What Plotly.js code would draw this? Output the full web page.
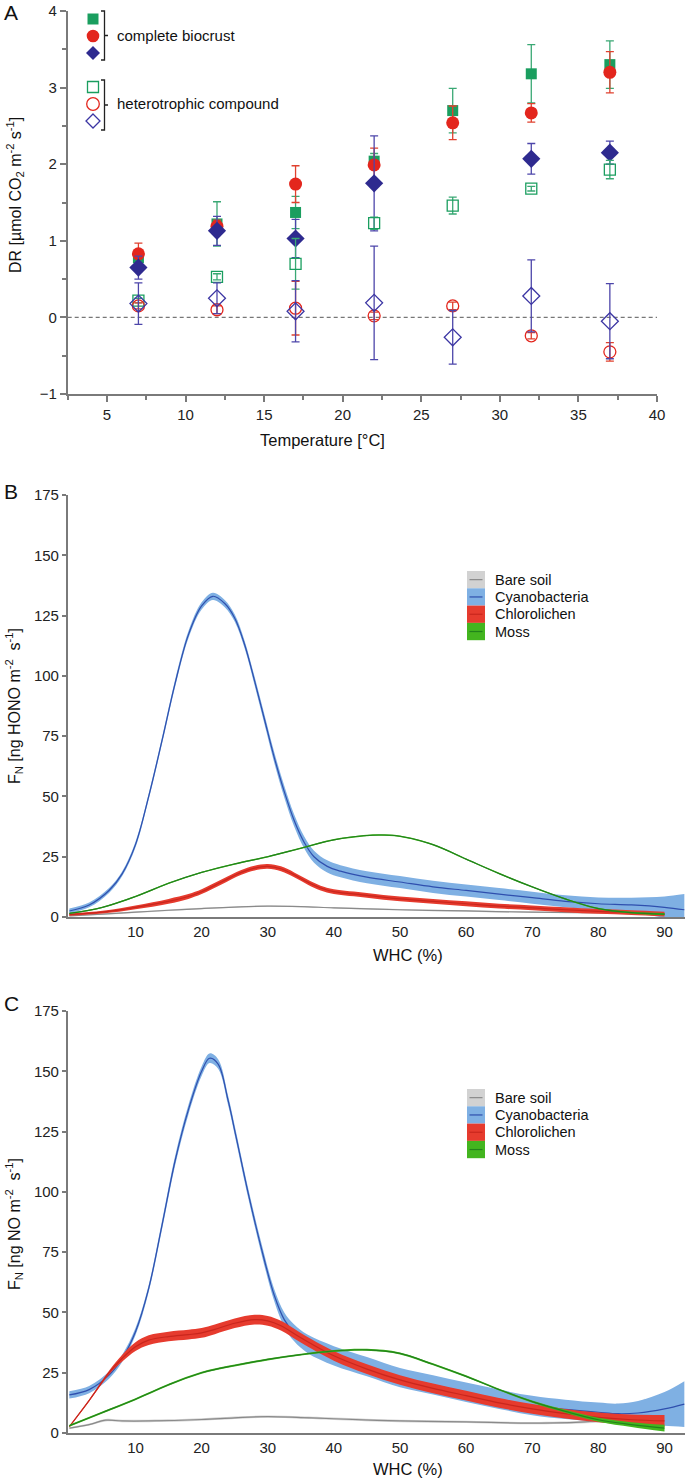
<!DOCTYPE html>
<html><head><meta charset="utf-8">
<script src="https://cdn.plot.ly/plotly-3.0.1.min.js"></script>
<style>html,body{margin:0;padding:0;background:#fff}#p{width:685px;height:1480px}</style>
</head><body><div id="p"></div>
<script>
// ---------- Panel A data ----------
const temps = [7, 12, 17, 22, 27, 32, 37];
const greenComplete = [0.78, 1.22, 1.37, 2.04, 2.70, 3.18, 3.30];
const greenCompleteErr = [0.05, 0.29, 0.21, 0.10, 0.29, 0.38, 0.31];
const redComplete = [0.83, 1.19, 1.74, 1.99, 2.54, 2.67, 3.20];
const redCompleteErr = [0.14, 0.08, 0.24, 0.22, 0.22, 0.12, 0.27];
const blueComplete = [0.65, 1.13, 1.03, 1.75, null, 2.07, 2.15];
const blueCompleteErr = [0.15, 0.19, 0.25, 0.62, 0, 0.20, 0.15];
const greenHetero = [0.22, 0.53, 0.70, 1.23, 1.46, 1.68, 1.93];
const greenHeteroErr = [0.03, 0.04, 0.33, 0.08, 0.11, 0.03, 0.12];
const redHetero = [0.15, 0.10, 0.12, 0.02, 0.15, -0.24, -0.45];
const redHeteroErr = [0.04, 0.05, 0.35, 0.05, 0.05, 0.04, 0.12];
const blueHetero = [0.18, 0.25, 0.08, 0.19, -0.26, 0.28, -0.05];
const blueHeteroErr = [0.27, 0.20, 0.40, 0.74, 0.35, 0.47, 0.49];
const legendA1 = "complete biocrust";
const legendA2 = "heterotrophic compound";

// ---------- Panel B data (HONO) ----------
const bareB_x = [0, 5, 10, 15, 20, 25, 30, 35, 40, 50, 60, 70, 80, 88];
const bareB_y = [0.5, 1.2, 2, 2.8, 3.5, 4.1, 4.5, 4.3, 3.8, 3, 2.5, 2, 1.8, 1.5];
const bareB_hw = [0.3, 0.3, 0.3, 0.3, 0.3, 0.3, 0.3, 0.3, 0.3, 0.3, 0.3, 0.3, 0.4, 0.6];
const cyanoB_x = [0, 3, 6, 8, 10, 12, 14, 16, 18, 20, 21.7, 23.5, 25, 26.5, 28, 29.5, 31, 32.5, 34, 35.5, 37, 39, 41, 45, 50, 55, 60, 65, 70, 75, 80, 85, 90, 93];
const cyanoB_y = [2.5, 5, 11, 18, 30, 50, 73, 97, 117, 129, 133, 130, 124, 113, 98, 82, 66, 52, 40, 31, 25, 21, 19, 16.5, 14.5, 12.5, 11, 9.5, 8, 6.5, 5.5, 5, 4, 3];
const cyanoB_hw = [1, 1, 1, 1, 1.2, 1.3, 1.4, 1.5, 1.5, 1.5, 1.5, 1.5, 1.5, 1.6, 1.8, 2, 2.2, 2.4, 2.5, 2.5, 2.5, 2.5, 2.5, 2.5, 2.5, 2.5, 2.5, 2.5, 2.5, 2.5, 2.6, 3, 4.5, 6.5];
const chloroB_x = [0, 5, 10, 15, 18, 20, 23, 26, 28, 30, 32, 34, 36, 38, 40, 45, 50, 55, 60, 65, 70, 75, 80, 85, 90];
const chloroB_y = [1, 2, 4, 6.5, 8.5, 10.5, 14.5, 18.5, 20.3, 21, 20, 17.5, 14.5, 12, 10.5, 9, 7.5, 6.5, 5.5, 4.5, 3.8, 3, 2.3, 1.8, 1.2];
const chloroB_hw = [0.5, 0.6, 0.8, 1, 1, 1, 1, 1, 1, 1, 1, 1, 1, 1, 1, 1, 1, 1, 1, 1, 1, 1, 1, 1, 1];
const mossB_x = [0, 5, 10, 15, 20, 25, 30, 35, 40, 45, 47, 50, 55, 60, 65, 70, 75, 80, 85, 90];
const mossB_y = [1.5, 4, 8.5, 14, 18.5, 22, 25, 28.5, 32, 33.8, 34, 33.5, 30, 24, 18, 12.5, 7.5, 3.5, 1.8, 1.2];
const mossB_hw = [0.3, 0.3, 0.3, 0.3, 0.3, 0.3, 0.3, 0.3, 0.3, 0.3, 0.3, 0.3, 0.3, 0.3, 0.3, 0.3, 0.3, 0.3, 0.4, 0.5];

// ---------- Panel C data (NO) ----------
const bareC_x = [0, 3, 5.5, 8, 12, 20, 25, 30, 35, 40, 50, 60, 70, 78, 82, 85, 87];
const bareC_y = [2, 3.5, 5.3, 5, 5, 5.6, 6.3, 6.8, 6.4, 5.9, 5, 4.6, 4.1, 4.6, 5.8, 7.8, 12.5];
const bareC_hw = [0.4, 0.4, 0.5, 0.5, 0.5, 0.5, 0.5, 0.5, 0.5, 0.5, 0.5, 0.5, 0.5, 0.6, 0.8, 1.2, 1.8];
const cyanoC_x = [0, 3, 6, 8, 10, 12, 14, 16, 18, 20, 21.2, 22.5, 24, 25.2, 27, 29, 31, 32.5, 34, 36, 40, 45, 50, 55, 60, 65, 70, 75, 80, 83, 86, 90, 93];
const cyanoC_y = [15.8, 18, 24, 31, 42, 60, 86, 113, 134, 150, 155.4, 153, 138, 123, 100, 77, 57, 47, 41.5, 37, 32, 27.5, 23, 20, 16.9, 14, 11.4, 9.8, 8.6, 8, 8.3, 10, 12];
const cyanoC_hw = [1.5, 1.5, 1.5, 1.5, 1.5, 1.5, 1.8, 2, 2, 2, 2, 2, 2, 2, 2, 2.2, 2.5, 3, 3.5, 3.8, 4, 4, 4, 4, 4, 4, 4, 4, 4, 4.2, 5, 7, 9.5];
const chloroC_x = [0, 3, 6, 8, 10, 12, 15, 18, 20, 22, 25, 28, 30, 32, 35, 40, 45, 50, 55, 60, 65, 70, 75, 80, 85, 90];
const chloroC_y = [2.6, 13.5, 25, 31, 35.8, 38.5, 40, 40.8, 41.5, 43, 45.5, 47, 46.5, 44.5, 39.5, 32, 26.5, 22, 18.5, 15.5, 12.5, 10, 8, 6.5, 5.5, 5];
const chloroC_hw = [0.3, 0.4, 0.8, 1.4, 1.8, 2, 2, 2, 2, 2, 2, 2, 2, 2, 2, 2, 2, 2, 2, 2, 2, 2, 2, 2, 2.2, 2.5];
const mossC_x = [0, 5, 10, 15, 20, 25, 30, 35, 40, 45, 50, 55, 60, 65, 70, 75, 80, 85, 90];
const mossC_y = [3, 8.5, 14, 20, 25, 28, 30.5, 32.5, 34, 34.5, 33, 28.5, 23.5, 18, 13, 9, 5.5, 3.5, 2];
const mossC_hw = [0.4, 0.4, 0.4, 0.4, 0.4, 0.4, 0.4, 0.4, 0.4, 0.4, 0.4, 0.4, 0.4, 0.4, 0.5, 0.6, 0.8, 1, 1.4];

const seriesNames = ["Bare soil", "Cyanobacteria", "Chlorolichen", "Moss"];
const whcTicks = [10, 20, 30, 40, 50, 60, 70, 80, 90];
const fnTicks = [0, 25, 50, 75, 100, 125, 150, 175];

// ---------- styles ----------
const FONT = "Liberation Sans, Arial, Helvetica, sans-serif";
const AX = "#7a7a7a";
const cGreen = "#1a9e5f", cRed = "#e3261d", cBlue = "#2e2a8f";
const bandCol = ["#d2d2d2", "#7fb0e3", "#e63b2e", "#43b51f"];
const lineCol = ["#8a8a8a", "#2f4fae", "#c9261d", "#21831b"];
const W = 685, H = 1480;
const fx = p => p / W, fy = p => 1 - p / H;

const traces = [];
function pt(y, err, sym, size, col, ecol, open) {
  traces.push({
    type: "scatter", mode: "markers", x: temps, y: y, xaxis: "x", yaxis: "y",
    marker: { symbol: sym, size: size, color: col, line: { color: col, width: open ? 1.3 : 0 } },
    error_y: { type: "data", array: err, visible: true, color: ecol, thickness: 1.3, width: 4 },
    showlegend: false, cliponaxis: false
  });
}
pt(greenComplete, greenCompleteErr, "square", 11, cGreen, "#3aa874", false);
pt(redComplete, redCompleteErr, "circle", 13, cRed, "#e0412f", false);
pt(blueComplete, blueCompleteErr, "diamond", 14, cBlue, "#4d46aa", false);
pt(greenHetero, greenHeteroErr, "square-open", 11, cGreen, "#3aa874", true);
pt(redHetero, redHeteroErr, "circle-open", 12, cRed, "#e0412f", true);
pt(blueHetero, blueHeteroErr, "diamond-open", 13, "#3b35a3", "#4d46aa", true);

function band(xs, ys, hw, i, xa, ya) {
  const lo = ys.map((v, k) => v - hw[k]);
  const hi = ys.map((v, k) => v + hw[k]);
  traces.push({ type: "scatter", mode: "lines", x: xs, y: lo, xaxis: xa, yaxis: ya,
    line: { width: 0, shape: "spline", smoothing: 1, color: bandCol[i] }, showlegend: false, hoverinfo: "skip" });
  traces.push({ type: "scatter", mode: "lines", x: xs, y: hi, xaxis: xa, yaxis: ya, fill: "tonexty",
    fillcolor: bandCol[i], line: { width: 0, shape: "spline", smoothing: 1, color: bandCol[i] }, showlegend: false, hoverinfo: "skip" });
  traces.push({ type: "scatter", mode: "lines", x: xs, y: ys, xaxis: xa, yaxis: ya,
    line: { width: 1.2, shape: "spline", smoothing: 1, color: lineCol[i] }, showlegend: false, name: seriesNames[i] });
}
band(bareB_x, bareB_y, bareB_hw, 0, "x2", "y2");
band(cyanoB_x, cyanoB_y, cyanoB_hw, 1, "x2", "y2");
band(chloroB_x, chloroB_y, chloroB_hw, 2, "x2", "y2");
band(mossB_x, mossB_y, mossB_hw, 3, "x2", "y2");
band(bareC_x, bareC_y, bareC_hw, 0, "x3", "y3");
band(cyanoC_x, cyanoC_y, cyanoC_hw, 1, "x3", "y3");
band(chloroC_x, chloroC_y, chloroC_hw, 2, "x3", "y3");
band(mossC_x, mossC_y, mossC_hw, 3, "x3", "y3");

const tickFont = { family: FONT, size: 15, color: "#222" };
const baseAx = { showline: true, linecolor: AX, linewidth: 1.5, showgrid: false, zeroline: false,
  tickcolor: AX, tickwidth: 1.5, tickfont: tickFont, fixedrange: true };

const layout = {
  width: W, height: H, margin: { l: 0, r: 0, t: 0, b: 0 },
  paper_bgcolor: "#fff", plot_bgcolor: "rgba(0,0,0,0)",
  font: { family: FONT, color: "#222" }, showlegend: false,
  xaxis: Object.assign({}, baseAx, { domain: [fx(67.7), fx(657)], range: [2.5, 40], anchor: "y",
    tick0: 5, dtick: 5, ticks: "outside", ticklen: 6,
    minor: { dtick: 2.5, tick0: 2.5, ticks: "outside", ticklen: 4, tickcolor: AX, tickwidth: 1.5 } }),
  yaxis: Object.assign({}, baseAx, { domain: [fy(394), fy(11)], range: [-1, 4], anchor: "x",
    dtick: 1, ticks: "outside", ticklen: 6,
    minor: { dtick: 0.5, ticks: "outside", ticklen: 4, tickcolor: AX, tickwidth: 1.5 } }),
  xaxis2: Object.assign({}, baseAx, { domain: [fx(67.7), 1], range: [-0.25, 93.1], anchor: "y2",
    tickvals: whcTicks, ticks: "" }),
  yaxis2: Object.assign({}, baseAx, { domain: [fy(917), fy(495)], range: [0, 175], anchor: "x2",
    tickvals: fnTicks, ticks: "outside", ticklen: 4 }),
  xaxis3: Object.assign({}, baseAx, { domain: [fx(67.7), 1], range: [-0.25, 93.1], anchor: "y3",
    tickvals: whcTicks, ticks: "" }),
  yaxis3: Object.assign({}, baseAx, { domain: [fy(1433), fy(1011)], range: [0, 175], anchor: "x3",
    tickvals: fnTicks, ticks: "outside", ticklen: 4 }),
  shapes: [], annotations: []
};

// zero dashed line
layout.shapes.push({ type: "line", xref: "x", yref: "y", x0: 2.5, x1: 40, y0: 0, y1: 0,
  line: { color: "#777", width: 1.2, dash: "4px,3px" }, layer: "below" });

// Panel A legend (manual)
const S = layout.shapes;
const lx = 93;
function sq(cy, col, open) { S.push({ type: "rect", xref: "paper", yref: "paper", x0: fx(lx - 5.5), x1: fx(lx + 5.5), y0: fy(cy + 5.5), y1: fy(cy - 5.5),
  fillcolor: open ? "rgba(0,0,0,0)" : col, line: { color: col, width: open ? 1.3 : 0 } }); }
function ci(cy, col, open) { S.push({ type: "circle", xref: "paper", yref: "paper", x0: fx(lx - 6.3), x1: fx(lx + 6.3), y0: fy(cy + 6.3), y1: fy(cy - 6.3),
  fillcolor: open ? "rgba(0,0,0,0)" : col, line: { color: col, width: open ? 1.3 : 0 } }); }
function di(cy, col, open) { const r = 7;
  S.push({ type: "path", xref: "paper", yref: "paper",
    path: `M ${fx(lx)} ${fy(cy - r)} L ${fx(lx + r)} ${fy(cy)} L ${fx(lx)} ${fy(cy + r)} L ${fx(lx - r)} ${fy(cy)} Z`,
    fillcolor: open ? "rgba(0,0,0,0)" : col, line: { color: col, width: open ? 1.3 : 0 } }); }
sq(19, cGreen, false); ci(36, cRed, false); di(53, cBlue, false);
sq(87, cGreen, true); ci(104, cRed, true); di(121, "#3b35a3", true);
function bracket(t, b) { const m = (t + b) / 2;
  S.push({ type: "path", xref: "paper", yref: "paper",
    path: `M ${fx(101)} ${fy(t)} L ${fx(104.5)} ${fy(t)} L ${fx(104.5)} ${fy(b)} L ${fx(101)} ${fy(b)} M ${fx(104.5)} ${fy(m)} L ${fx(108)} ${fy(m)}`,
    line: { color: "#222", width: 1.3 } }); }
bracket(11, 60); bracket(80, 130);

const A = layout.annotations;
function txt(x, y, t, size, opts) {
  A.push(Object.assign({ xref: "paper", yref: "paper", x: fx(x), y: fy(y), text: t, showarrow: false,
    font: { family: FONT, size: size, color: "#111" }, xanchor: "left", yanchor: "middle" }, opts || {}));
}
txt(115, 36, legendA1, 15);
txt(115, 104, legendA2, 15);

// Legends for B and C
function legendBC(top) {
  const h = 17.3;
  seriesNames.forEach((n, i) => {
    const y0 = top + i * h, y1 = y0 + h, cy = (y0 + y1) / 2;
    S.push({ type: "rect", xref: "paper", yref: "paper", x0: fx(467), x1: fx(485), y0: fy(y1), y1: fy(y0),
      fillcolor: bandCol[i], line: { width: 0 } });
    S.push({ type: "line", xref: "paper", yref: "paper", x0: fx(469.5), x1: fx(482.5), y0: fy(cy), y1: fy(cy),
      line: { color: lineCol[i], width: 1.2 } });
    txt(493, cy, n, 14.5);
  });
}
legendBC(571);
legendBC(1089);

// Titles and panel labels
txt(2, 12, "A", 21);
txt(2, 492, "B", 21);
txt(2, 1004, "C", 21);
txt(15, 195, "DR [µmol CO<sub>2</sub> m<sup>-2</sup> s<sup>-1</sup>]", 16, { xanchor: "center", textangle: -90 });
txt(322, 440, "Temperature [°C]", 16.5, { xanchor: "center" });
txt(14, 706, "F<sub>N</sub> [ng HONO m<sup>-2</sup>  s<sup>-1</sup>]", 16, { xanchor: "center", textangle: -90 });
txt(408, 955, "WHC (%)", 16.5, { xanchor: "center" });
txt(14, 1224, "F<sub>N</sub> [ng NO m<sup>-2</sup>  s<sup>-1</sup>]", 16, { xanchor: "center", textangle: -90 });
txt(408, 1469, "WHC (%)", 16.5, { xanchor: "center" });

Plotly.newPlot("p", traces, layout, { displayModeBar: false });
</script></body></html>
